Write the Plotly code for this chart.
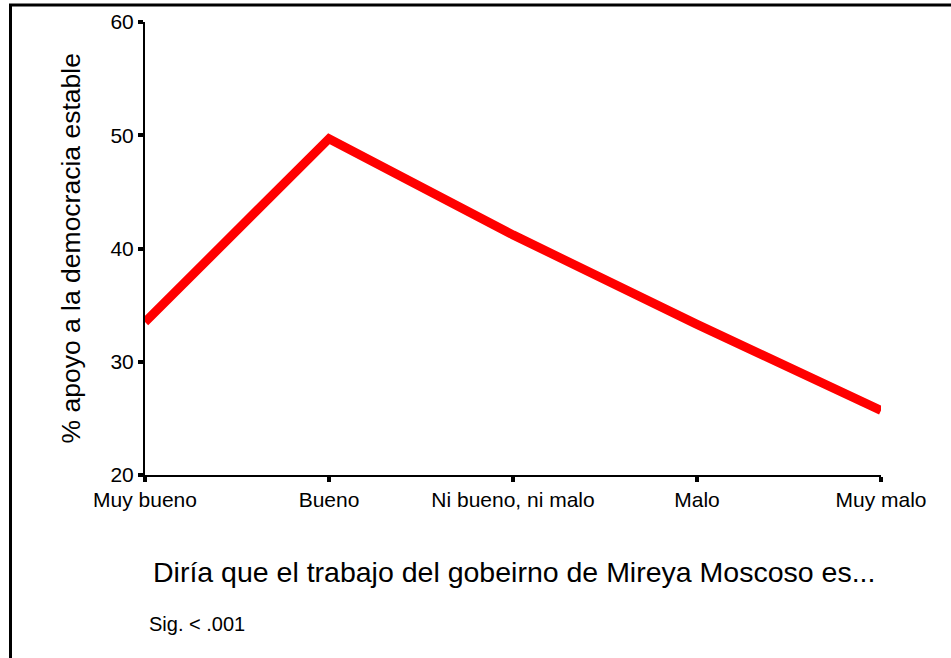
import plotly.graph_objects as go

categories = ["Muy bueno", "Bueno", "Ni bueno, ni malo", "Malo", "Muy malo"]
values = [33.5, 49.7, 41.2, 33.3, 25.7]
y_ticks = [20, 30, 40, 50, 60]

L, R, T, B = 145, 881, 22, 475  # pixels of plot area
W, H = 951, 658
pw, ph = R - L, B - T

def px(x):
    return (x - L) / pw

def py(y):
    return (B - y) / ph

font = "Liberation Sans, Arial, sans-serif"

fig = go.Figure()
fig.add_trace(go.Scatter(
    x=list(range(len(categories))), y=values, mode="lines",
    line=dict(color="#ff0000", width=9), cliponaxis=False, hoverinfo="skip"
))

fig.update_layout(
    width=W, height=H,
    margin=dict(l=L, r=W - R, t=T, b=H - B, pad=0, autoexpand=False),
    paper_bgcolor="white", plot_bgcolor="white",
    showlegend=False,
    font=dict(family=font, color="black"),
    xaxis=dict(
        range=[0, len(categories) - 1], tickmode="array",
        tickvals=list(range(len(categories))), ticktext=categories,
        showgrid=False, zeroline=False, showline=True, linecolor="black", linewidth=2,
        ticks="outside", ticklen=5, tickwidth=4, tickcolor="black",
        tickfont=dict(size=21, family=font), fixedrange=True, automargin=False,
    ),
    yaxis=dict(
        range=[20, 60], tickmode="array", tickvals=y_ticks,
        showgrid=False, zeroline=False, showline=True, linecolor="black", linewidth=2,
        ticks="outside", ticklen=5, tickwidth=4, tickcolor="black",
        tickfont=dict(size=21, family=font), fixedrange=True, automargin=False,
    ),
    annotations=[
        dict(text="% apoyo a la democracia estable", xref="paper", yref="paper",
             x=px(70), y=0.5, textangle=-90, showarrow=False,
             font=dict(size=26.5, family=font), xanchor="center", yanchor="middle"),
        dict(text="Diría que el trabajo del gobeirno de Mireya Moscoso es...",
             xref="paper", yref="paper", x=px(514), y=py(572), showarrow=False,
             font=dict(size=28.5, family=font), xanchor="center", yanchor="middle"),
        dict(text="Sig. < .001", xref="paper", yref="paper", x=px(147), y=py(624),
             showarrow=False, font=dict(size=20, family=font),
             xanchor="left", yanchor="middle"),
    ],
    shapes=[
        dict(type="line", xref="paper", yref="paper", x0=px(9), x1=px(960),
             y0=py(5), y1=py(5), line=dict(color="black", width=3)),
        dict(type="line", xref="paper", yref="paper", x0=px(10.5), x1=px(10.5),
             y0=py(4), y1=py(670), line=dict(color="black", width=3)),
    ],
)

fig.write_html(
    "out.html",
    config={"displayModeBar": False, "staticPlot": True},
    post_script="document.body.style.margin='0';document.body.style.overflow='hidden';",
)
